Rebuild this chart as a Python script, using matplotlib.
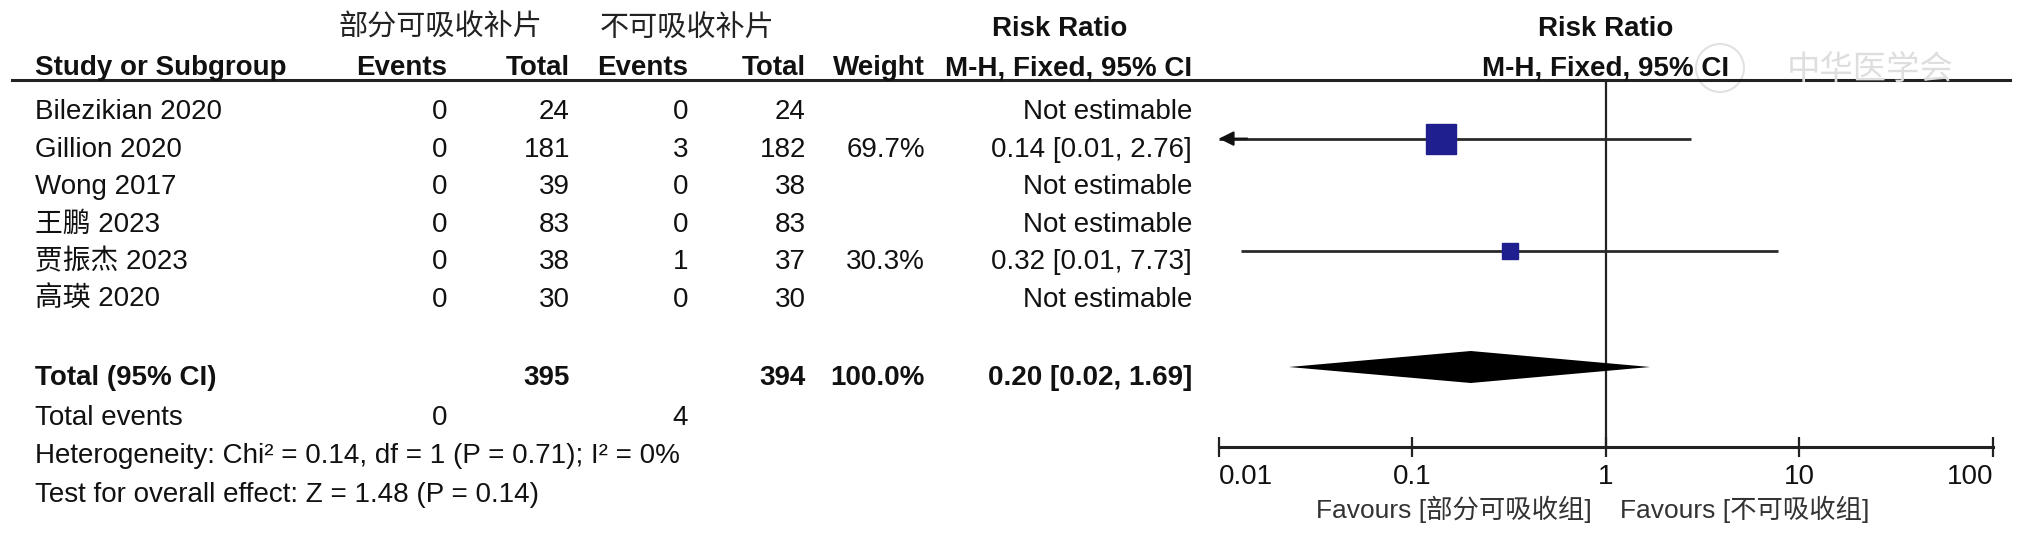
import matplotlib
matplotlib.use('Agg')
import matplotlib.pyplot as plt
import numpy as np

plt.rcParams['font.family'] = ['Liberation Sans', 'Noto Sans CJK SC']

# data
studies = ['Bilezikian 2020', 'Gillion 2020', 'Wong 2017', '王鹏 2023', '贾振杰 2023', '高瑛 2020']
events_a = [0, 0, 0, 0, 0, 0]
total_a = [24, 181, 39, 83, 38, 30]
events_b = [0, 3, 0, 0, 1, 0]
total_b = [24, 182, 38, 83, 37, 30]
weights = [np.nan, 69.7, np.nan, np.nan, 30.3, np.nan]
rr = [np.nan, 0.14, np.nan, np.nan, 0.32, np.nan]
ci_lo = [np.nan, 0.007, np.nan, np.nan, 0.013, np.nan]
ci_hi = [np.nan, 2.76, np.nan, np.nan, 7.73, np.nan]

pooled = [0.20, 0.023, 1.69]
group_a = '部分可吸收补片'
group_b = '不可吸收补片'
fav_a = 'Favours [部分可吸收组]'
fav_b = 'Favours [不可吸收组]'
heterogeneity = 'Heterogeneity: Chi² = 0.14, df = 1 (P = 0.71); I² = 0%'
overall = 'Test for overall effect: Z = 1.48 (P = 0.14)'
ticks = [0.01, 0.1, 1, 10, 100]
tick_labels = ['0.01', '0.1', '1', '10', '100']

W, H = 2031, 536
fig = plt.figure(figsize=(W / 100, H / 100), dpi=100)
fig.patch.set_facecolor('white')

# table part, pixel coordinates
tx = fig.add_axes([0, 0, 1, 1])
tx.set_xlim(0, W)
tx.set_ylim(H, 0)
tx.axis('off')

FS = 20
TXT = '#111111'
c_name, c_ev_a, c_tot_a, c_ev_b, c_tot_b, c_w, c_rr = 35, 447, 570, 688, 806, 925, 1192
plot_x0, plot_x1, plot_top, plot_axis = 1219, 1993, 80, 447


def put(x, yc, s, ha='right', bold=False, size=FS, color=TXT):
    tx.text(x, yc + 10, s, ha=ha, va='baseline', fontsize=size,
            fontweight='bold' if bold else 'normal', color=color)


# headers
tx.text(440, 28, group_a, ha='center', va='center', fontsize=21, color='#222222')
tx.text(687, 28, group_b, ha='center', va='center', fontsize=21, color='#222222')
put(1060, 26, 'Risk Ratio', ha='center', bold=True)
put(1606, 26, 'Risk Ratio', ha='center', bold=True)
put(c_name, 65, 'Study or Subgroup', ha='left', bold=True)
put(c_ev_a, 65, 'Events', bold=True)
put(c_tot_a, 65, 'Total', bold=True)
put(c_ev_b, 65, 'Events', bold=True)
put(c_tot_b, 65, 'Total', bold=True)
put(c_w, 65, 'Weight', bold=True)
put(c_rr, 65, 'M-H, Fixed, 95% CI', bold=True)
put(1606, 65, 'M-H, Fixed, 95% CI', ha='center', bold=True)
tx.plot([12, 2010], [80, 80], color='#222222', lw=2.2)

# watermark
tx.add_patch(plt.Circle((1720, 68), 24, fill=False, color='#e2e2e2', lw=1.5))
tx.text(1870, 70, '中华医学会', ha='center', va='center', fontsize=24, color='#dedede')

row_y = [109 + 37.6 * i for i in range(len(studies))]
for i, name in enumerate(studies):
    y = row_y[i]
    put(c_name, y, name, ha='left')
    put(c_ev_a, y, str(events_a[i]))
    put(c_tot_a, y, str(total_a[i]))
    put(c_ev_b, y, str(events_b[i]))
    put(c_tot_b, y, str(total_b[i]))
    if np.isnan(rr[i]):
        put(c_rr, y, 'Not estimable')
    else:
        put(c_w, y, f'{weights[i]:.1f}%')
        put(c_rr, y, f'{rr[i]:.2f} [{ci_lo[i]:.2f}, {ci_hi[i]:.2f}]')

y_tot, y_ev, y_het, y_z = 375, 415, 453, 492
put(c_name, y_tot, 'Total (95% CI)', ha='left', bold=True)
put(c_tot_a, y_tot, str(sum(total_a)), bold=True)
put(c_tot_b, y_tot, str(sum(total_b)), bold=True)
put(c_w, y_tot, f'{np.nansum(weights):.1f}%', bold=True)
put(c_rr, y_tot, f'{pooled[0]:.2f} [{pooled[1]:.2f}, {pooled[2]:.2f}]', bold=True)
put(c_name, y_ev, 'Total events', ha='left')
put(c_ev_a, y_ev, str(sum(events_a)))
put(c_ev_b, y_ev, str(sum(events_b)))
put(c_name, y_het, heterogeneity, ha='left')
put(c_name, y_z, overall, ha='left')

# forest part
ax = fig.add_axes([plot_x0 / W, (H - plot_axis) / H,
                   (plot_x1 - plot_x0) / W, (plot_axis - plot_top) / H])
ax.patch.set_alpha(0)
ax.set_xscale('log')
ax.set_xlim(ticks[0], ticks[-1])
ax.set_ylim(plot_axis, plot_top)
for s in ['top', 'right', 'left']:
    ax.spines[s].set_visible(False)
ax.spines['bottom'].set_linewidth(2.2)
ax.spines['bottom'].set_color('#222222')
ax.set_yticks([])
ax.set_xticks(ticks)
ax.set_xticklabels(tick_labels)
ax.xaxis.set_minor_locator(matplotlib.ticker.NullLocator())
ax.tick_params(axis='x', direction='inout', length=14, width=1.6, pad=5,
               labelsize=FS, colors='#222222', labelcolor=TXT)
labels = ax.get_xticklabels()
labels[0].set_ha('left')
labels[-1].set_ha('right')

ax.axvline(1, color='#222222', lw=1.6, zorder=1)

for i in range(len(studies)):
    if np.isnan(rr[i]):
        continue
    y = row_y[i] - 8
    lo = max(ci_lo[i], ticks[0])
    ax.plot([lo, ci_hi[i]], [y, y], color='#2a2a2a', lw=2, solid_capstyle='butt', zorder=2)
    if ci_lo[i] < ticks[0]:
        ax.annotate('', xy=(ticks[0], y), xytext=(ticks[0] * 1.4, y),
                    arrowprops=dict(arrowstyle='-|>', color='#111111', lw=1.5,
                                    mutation_scale=22, shrinkA=0, shrinkB=0),
                    annotation_clip=False)
    ax.plot(rr[i], y, marker='s', ms=4.45 + 0.256 * weights[i], color='#1f1f8f',
            mec='#1f1f8f', zorder=3, clip_on=False)

yd = y_tot - 8
h = 16
ax.fill([pooled[1], pooled[0], pooled[2], pooled[0]], [yd, yd - h, yd, yd + h],
        color='black', lw=0, zorder=3)

tx.text(1592, 518, fav_a, ha='right', va='baseline', fontsize=19, color='#333333')
tx.text(1620, 518, fav_b, ha='left', va='baseline', fontsize=19, color='#333333')

fig.savefig('out.png', dpi=100)
